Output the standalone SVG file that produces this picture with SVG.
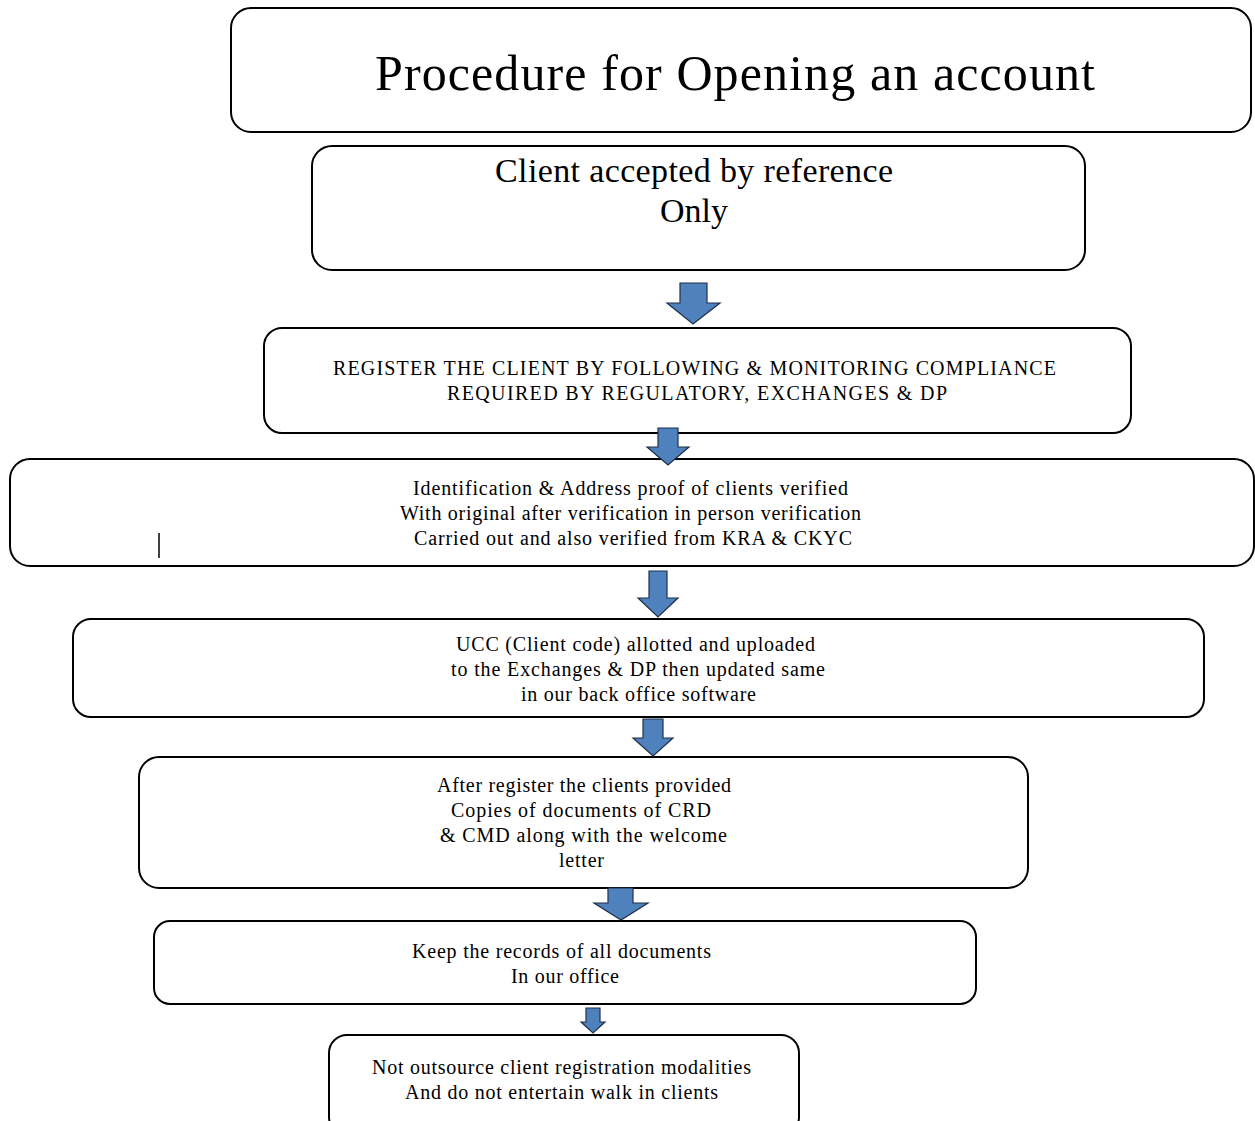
<svg xmlns="http://www.w3.org/2000/svg" width="1255" height="1121" viewBox="0 0 1255 1121">
<style>
.box{fill:#fff;stroke:#000;stroke-width:2}
.arr{fill:#4f81bd;stroke:#1f2f4a;stroke-width:1.2;stroke-linejoin:miter}
text{font-family:"Liberation Serif","Times New Roman",serif;fill:#000;text-anchor:middle}
.t1{font-size:50px}
.t2{font-size:34px}
.t3{font-size:20px}
</style>
<rect width="1255" height="1121" fill="#fff"/>
<g id="title">
<rect class="box" x="231" y="8" width="1020" height="124" rx="20"/>
<text class="t1" x="735" y="90" textLength="720" lengthAdjust="spacing">Procedure for Opening an account</text>
</g>
<g id="client-accepted">
<rect class="box" x="312" y="146" width="773" height="124" rx="20"/>
<text class="t2" x="694" y="182" textLength="398" lengthAdjust="spacing">Client accepted by reference</text>
<text class="t2" x="694" y="222" textLength="68" lengthAdjust="spacing">Only</text>
</g>
<g id="register">
<rect class="box" x="264" y="328" width="867" height="105" rx="18"/>
<text class="t3" x="694.5" y="375" textLength="723" lengthAdjust="spacing">REGISTER THE CLIENT BY FOLLOWING &amp; MONITORING COMPLIANCE</text>
<text class="t3" x="697" y="400" textLength="500" lengthAdjust="spacing">REQUIRED BY REGULATORY, EXCHANGES &amp; DP</text>
</g>
<g id="identification">
<rect class="box" x="10" y="459" width="1244" height="107" rx="20"/>
<text class="t3" x="630.5" y="495" textLength="435" lengthAdjust="spacing">Identification &amp; Address proof  of clients verified</text>
<text class="t3" x="630.5" y="520" textLength="461" lengthAdjust="spacing">With original after verification in person verification</text>
<text class="t3" x="633" y="545" textLength="438" lengthAdjust="spacing">Carried out and also verified from KRA &amp; CKYC</text>
<line x1="159" y1="533" x2="159" y2="558" stroke="#000" stroke-width="1.5"/>
</g>
<g id="ucc">
<rect class="box" x="73" y="619" width="1131" height="98" rx="18"/>
<text class="t3" x="635.5" y="651" textLength="359" lengthAdjust="spacing">UCC (Client code) allotted and uploaded</text>
<text class="t3" x="638" y="676" textLength="374" lengthAdjust="spacing">to the Exchanges &amp; DP then updated same</text>
<text class="t3" x="638.5" y="701" textLength="235" lengthAdjust="spacing">in our back office software</text>
</g>
<g id="after-register">
<rect class="box" x="139" y="757" width="889" height="131" rx="20"/>
<text class="t3" x="584" y="792" textLength="294" lengthAdjust="spacing">After register the clients provided</text>
<text class="t3" x="581" y="817" textLength="260" lengthAdjust="spacing">Copies of documents of CRD</text>
<text class="t3" x="583.5" y="842" textLength="287" lengthAdjust="spacing">&amp; CMD along with the welcome</text>
<text class="t3" x="581.5" y="867" textLength="45" lengthAdjust="spacing">letter</text>
</g>
<g id="keep-records">
<rect class="box" x="154" y="921" width="822" height="83" rx="16"/>
<text class="t3" x="561.5" y="958" textLength="299" lengthAdjust="spacing">Keep the records of all documents</text>
<text class="t3" x="565" y="983" textLength="108" lengthAdjust="spacing">In our office</text>
</g>
<g id="not-outsource">
<rect class="box" x="329" y="1035" width="470" height="100" rx="18"/>
<text class="t3" x="561.5" y="1074" textLength="379" lengthAdjust="spacing">Not outsource client registration modalities</text>
<text class="t3" x="561.5" y="1099" textLength="313" lengthAdjust="spacing">And do not entertain walk in clients</text>
</g>
<g id="connectors">
<polygon class="arr" points="680,283 707,283 707,303 720,303 693,324 667,303 680,303"/>
<polygon class="arr" points="658,428 678,428 678,447 689,447 668,465 647,447 658,447"/>
<polygon class="arr" points="649,571 667,571 667,598 678,598 658,617 638,598 649,598"/>
<polygon class="arr" points="643,719 663,719 663,738 673,738 653,756 633,738 643,738"/>
<polygon class="arr" points="608,888 633,888 633,903 648,903 621,920 594,903 608,903"/>
<polygon class="arr" points="586,1008 600,1008 600,1022 605,1022 593,1033 581,1022 586,1022"/>
</g>
</svg>
